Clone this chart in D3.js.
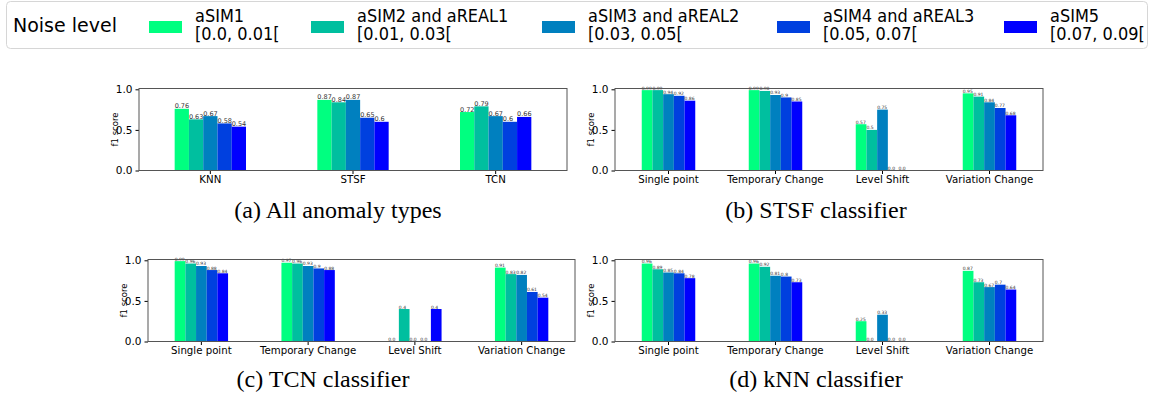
<!DOCTYPE html>
<html>
<head>
<meta charset="utf-8">
<script src="https://cdn.jsdelivr.net/npm/d3@7"></script>
<style>
  body { margin: 0; background: #fff; }
  svg { display: block; font-family: "DejaVu Sans", sans-serif; }
</style>
</head>
<body>
<div id="wrapper"></div>
<script>
// noise levels (series)
const noiseNames = ["aSIM1", "aSIM2 and aREAL1", "aSIM3 and aREAL2", "aSIM4 and aREAL3", "aSIM5"]
const noiseRanges = ["[0.0, 0.01[", "[0.01, 0.03[", "[0.03, 0.05[", "[0.05, 0.07[", "[0.07, 0.09["]
const noiseColors = ["#00ff80", "#00bf9f", "#0080bf", "#0040df", "#0000ff"]

// (a) all anomaly types, per classifier
const classifiers = ["KNN", "STSF", "TCN"]
const allTypesScores = [
  [0.76, 0.63, 0.67, 0.58, 0.54],
  [0.87, 0.84, 0.87, 0.65, 0.6],
  [0.72, 0.79, 0.67, 0.6, 0.66]
]

// anomaly types for (b)-(d)
const anomalyTypes = ["Single point", "Temporary Change", "Level Shift", "Variation Change"]
const stsfScores = [
  [0.99, 0.99, 0.94, 0.92, 0.86],
  [0.99, 0.98, 0.93, 0.9, 0.85],
  [0.57, 0.5, 0.75, 0.0, 0.0],
  [0.95, 0.91, 0.84, 0.77, 0.68]
]
const tcnScores = [
  [0.99, 0.96, 0.93, 0.88, 0.84],
  [0.97, 0.96, 0.93, 0.9, 0.88],
  [0.0, 0.4, 0.0, 0.0, 0.4],
  [0.91, 0.83, 0.82, 0.61, 0.54]
]
const knnScores = [
  [0.96, 0.89, 0.85, 0.84, 0.78],
  [0.96, 0.92, 0.81, 0.8, 0.73],
  [0.25, 0.0, 0.33, 0.0, 0.0],
  [0.87, 0.73, 0.67, 0.7, 0.64]
]
const yTicks = [0.0, 0.5, 1.0]

const panels = [
  {cats: classifiers, scores: allTypesScores, caption: "(a) All anomaly types",
   left: 139, right: 567, top: 88.5, bottom: 170.5, capX: 338, capY: 218, valFont: 6.5},
  {cats: anomalyTypes, scores: stsfScores, caption: "(b) STSF classifier",
   left: 615, right: 1043, top: 88.5, bottom: 170.5, capX: 816, capY: 218, valFont: 4.5},
  {cats: anomalyTypes, scores: tcnScores, caption: "(c) TCN classifier",
   left: 148, right: 575, top: 259.5, bottom: 341.5, capX: 323, capY: 387, valFont: 4.5},
  {cats: anomalyTypes, scores: knnScores, caption: "(d) kNN classifier",
   left: 615, right: 1043, top: 259.5, bottom: 341.5, capX: 816, capY: 387, valFont: 4.5}
]

const width = 1152, height = 396
const svg = d3.select("#wrapper").append("svg")
    .attr("width", width)
    .attr("height", height)

// legend
const legend = svg.append("g")
legend.append("rect")
    .attr("x", 6.5).attr("y", 1.5)
    .attr("width", 1141).attr("height", 47)
    .attr("rx", 4)
    .attr("fill", "#fff")
    .attr("stroke", "#d6d6d6")
legend.append("text")
    .attr("x", 13).attr("y", 32)
    .style("font-size", "19px")
    .text("Noise level")

const patchX = [149, 311, 542, 777, 1004]
noiseNames.forEach((name, i) => {
  legend.append("rect")
      .attr("x", patchX[i]).attr("y", 21)
      .attr("width", 33).attr("height", 12)
      .attr("fill", noiseColors[i])
  const tx = patchX[i] + 46
  const t = legend.append("text")
      .attr("transform", `translate(${tx},0) scale(0.95,1)`)
      .style("font-size", "17px")
  t.append("tspan").attr("x", 0).attr("y", 22).text(name)
  t.append("tspan").attr("x", 0).attr("y", 40).text(noiseRanges[i])
})

// bar panels
panels.forEach(p => {
  const g = svg.append("g")

  const xScale = d3.scaleBand()
      .domain(p.cats)
      .range([p.left, p.right])
  const inner = d3.scaleBand()
      .domain(d3.range(noiseNames.length))
      .range([0, xScale.bandwidth() * 0.5])
  const yScale = d3.scaleLinear()
      .domain([0, 1.01])
      .range([p.bottom, p.top])

  p.cats.forEach((cat, ci) => {
    const x0 = xScale(cat) + xScale.bandwidth() * 0.25
    p.scores[ci].forEach((v, si) => {
      const bx = x0 + inner(si)
      g.append("rect")
          .attr("x", bx)
          .attr("y", yScale(v))
          .attr("width", inner.bandwidth())
          .attr("height", yScale(0) - yScale(v))
          .attr("fill", noiseColors[si])
      g.append("text")
          .attr("x", bx)
          .attr("y", yScale(v) - 0.5)
          .attr("fill", "#333")
          .style("font-size", p.valFont + "px")
          .text(v === 0 ? "0.0" : String(v))
    })
  })

  const xAxis = g.append("g")
      .attr("transform", `translate(0,${p.bottom})`)
      .call(d3.axisBottom(xScale).tickSize(3.5).tickPadding(2))
      .attr("font-family", "DejaVu Sans")
  xAxis.select(".domain").remove()
  xAxis.selectAll("text").style("font-size", "10.2px").attr("fill", "#000")

  const yAxis = g.append("g")
      .attr("transform", `translate(${p.left},0)`)
      .call(d3.axisLeft(yScale).tickValues(yTicks).tickFormat(d3.format(".1f")).tickSize(3.5).tickPadding(3))
      .attr("font-family", "DejaVu Sans")
  yAxis.select(".domain").remove()
  yAxis.selectAll("text").style("font-size", "10.5px").attr("fill", "#000")

  g.append("rect")
      .attr("x", p.left).attr("y", p.top)
      .attr("width", p.right - p.left).attr("height", p.bottom - p.top)
      .attr("fill", "none")
      .attr("stroke", "#555")
      .attr("stroke-width", 1)

  g.append("text")
      .attr("transform", `translate(${p.left - 21},${(p.top + p.bottom) / 2}) rotate(-90)`)
      .attr("text-anchor", "middle")
      .style("font-size", "8.5px")
      .text("f1 score")

  g.append("text")
      .attr("x", p.capX).attr("y", p.capY)
      .attr("text-anchor", "middle")
      .style("font-family", "'Liberation Serif', serif")
      .style("font-size", "24px")
      .text(p.caption)
})
</script>
</body>
</html>
